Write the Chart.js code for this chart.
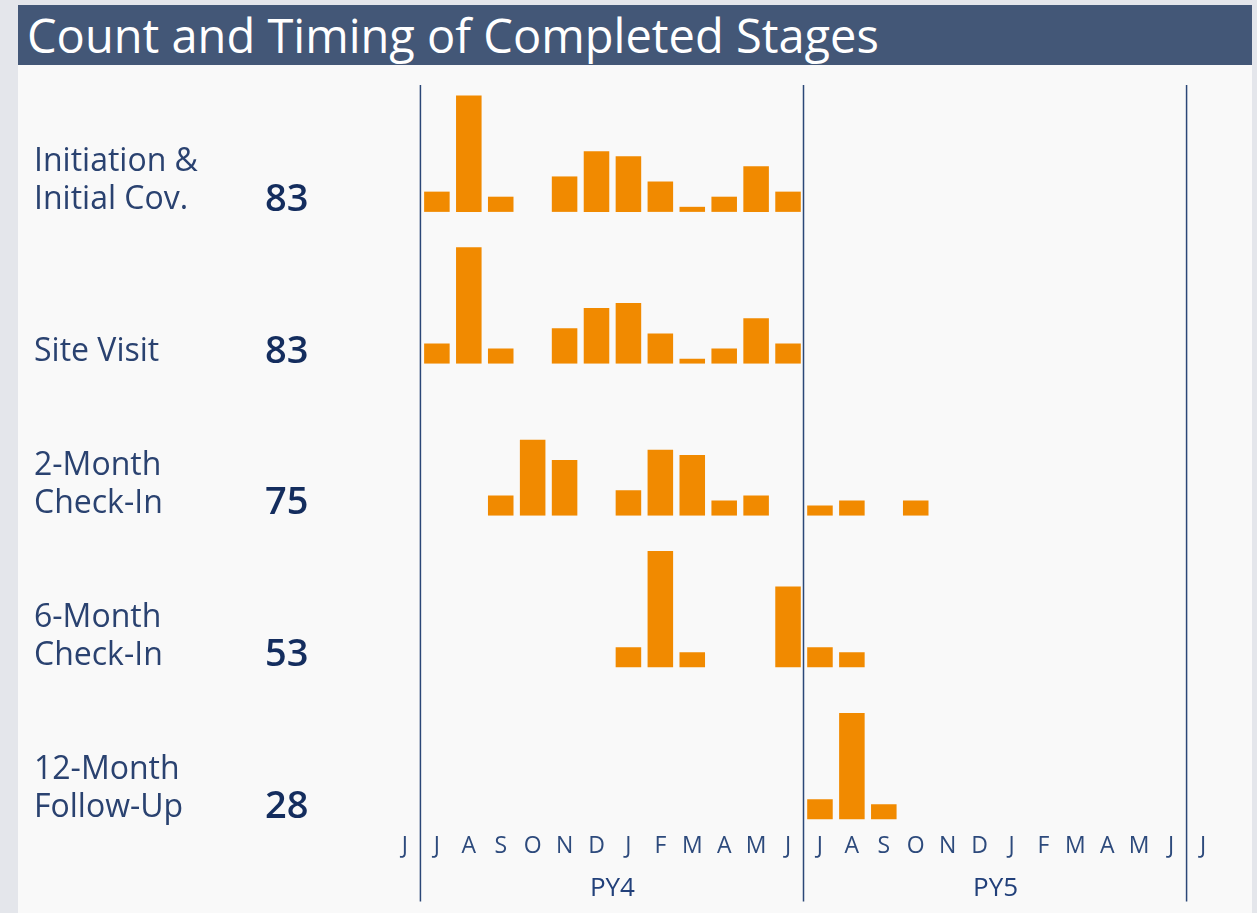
<!DOCTYPE html>
<html>
<head>
<meta charset="utf-8">
<title>Count and Timing of Completed Stages</title>
<script src="https://cdn.jsdelivr.net/npm/chart.js@4.4.1/dist/chart.umd.min.js"></script>
<style>
  html, body { margin: 0; padding: 0; background: #e4e6eb; }
  body { width: 1257px; height: 913px; position: relative; overflow: hidden; font-family: "Open Sans", sans-serif; }
  #panel { position: absolute; left: 18px; top: 5px; width: 1234px; height: 908px; background: #f9f9f9; }
  #head { height: 60px; background: #435777; color: #fff; font-size: 47px; line-height: 60px; padding-left: 9px; white-space: nowrap; }
  #chart { position: absolute; left: 0; top: 0; }
</style>
</head>
<body>
<div id="panel"><div id="head">Count and Timing of Completed Stages</div></div>
<canvas id="chart" width="1257" height="913"></canvas>
<script>
// months from June PY3 to July PY6; the two edge months only frame the program years
var months = ['J', 'J', 'A', 'S', 'O', 'N', 'D', 'J', 'F', 'M', 'A', 'M', 'J',
              'J', 'A', 'S', 'O', 'N', 'D', 'J', 'F', 'M', 'A', 'M', 'J', 'J'];
var years = ['PY4', 'PY5'];
var stageNames = [['Initiation &', 'Initial Cov.'], ['Site Visit'], ['2-Month', 'Check-In'], ['6-Month', 'Check-In'], ['12-Month', 'Follow-Up']];

// completed stages per month
var initiation = [0, 4, 23, 3, 0, 7, 12, 11, 6, 1, 3, 9, 4, 0, 0, 0, 0, 0, 0, 0, 0, 0, 0, 0, 0, 0];
var siteVisit  = [0, 4, 23, 3, 0, 7, 11, 12, 6, 1, 3, 9, 4, 0, 0, 0, 0, 0, 0, 0, 0, 0, 0, 0, 0, 0];
var checkIn2   = [0, 0, 0, 4, 15, 11, 0, 5, 13, 12, 3, 4, 0, 2, 3, 0, 3, 0, 0, 0, 0, 0, 0, 0, 0, 0];
var checkIn6   = [0, 0, 0, 0, 0, 0, 0, 4, 23, 3, 0, 0, 16, 4, 3, 0, 0, 0, 0, 0, 0, 0, 0, 0, 0, 0];
var followUp12 = [0, 0, 0, 0, 0, 0, 0, 0, 0, 0, 0, 0, 0, 4, 21, 3, 0, 0, 0, 0, 0, 0, 0, 0, 0, 0];
var stageData = [initiation, siteVisit, checkIn2, checkIn6, followUp12];

var navy = '#22407a';

var scales = {
  x: {
    grid: { display: false },
    border: { display: false },
    ticks: { color: '#2d4a7c', font: { size: 23, family: 'Open Sans' }, padding: 5, autoSkip: false, maxRotation: 0 }
  }
};
// one stacked y axis per stage row, first row on top
stageData.forEach(function (d, i) {
  scales['y' + i] = { display: false, stack: 'rows', stackWeight: 1, weight: 5 - i, min: 0, max: 30 };
});

var rowLabels = {
  id: 'rowLabels',
  afterDraw: function (chart) {
    var ctx = chart.ctx, x = chart.scales.x, area = chart.chartArea;
    ctx.save();
    // year dividers
    ctx.strokeStyle = '#2b4777';
    ctx.lineWidth = 1.5;
    [0, 12, 24].forEach(function (k) {
      var px = (x.getPixelForValue(k) + x.getPixelForValue(k + 1)) / 2 - 0.5;
      ctx.beginPath();
      ctx.moveTo(px, area.top + 25);
      ctx.lineTo(px, area.bottom + 82);
      ctx.stroke();
    });
    // program year names
    ctx.fillStyle = navy;
    ctx.textAlign = 'center';
    ctx.textBaseline = 'middle';
    ctx.font = '26px "Open Sans"';
    years.forEach(function (name, j) {
      var a = x.getPixelForValue(1 + 12 * j), b = x.getPixelForValue(12 + 12 * j);
      ctx.fillText(name, (a + b) / 2, area.bottom + 69);
    });
    // stage names and totals
    ctx.textAlign = 'left';
    stageNames.forEach(function (lines, i) {
      var s = chart.scales['y' + i];
      var y = s.bottom - 12;
      ctx.fillStyle = '#2a4270';
      ctx.font = '32px "Open Sans"';
      for (var n = lines.length - 1; n >= 0; n--) {
        ctx.fillText(lines[n], 34, y - (lines.length - 1 - n) * 38);
      }
      var total = stageData[i].reduce(function (a, b) { return a + b; }, 0);
      ctx.fillStyle = '#142d5e';
      ctx.font = '600 38px "Open Sans"';
      ctx.fillText(String(total), 265, y);
    });
    ctx.restore();
  }
};

new Chart(document.getElementById('chart'), {
  type: 'bar',
  data: {
    labels: months,
    datasets: stageData.map(function (d, i) {
      return {
        label: stageNames[i].join(' '),
        data: d,
        yAxisID: 'y' + i,
        backgroundColor: '#f18a00',
        borderWidth: 0,
        grouped: false,
        barPercentage: 0.8,
        categoryPercentage: 1
      };
    })
  },
  options: {
    responsive: false,
    animation: false,
    layout: { padding: { left: 389, right: 38, top: 60, bottom: 48 } },
    plugins: { legend: { display: false }, tooltip: { enabled: false } },
    scales: scales
  },
  plugins: [rowLabels]
});
</script>
</body>
</html>
